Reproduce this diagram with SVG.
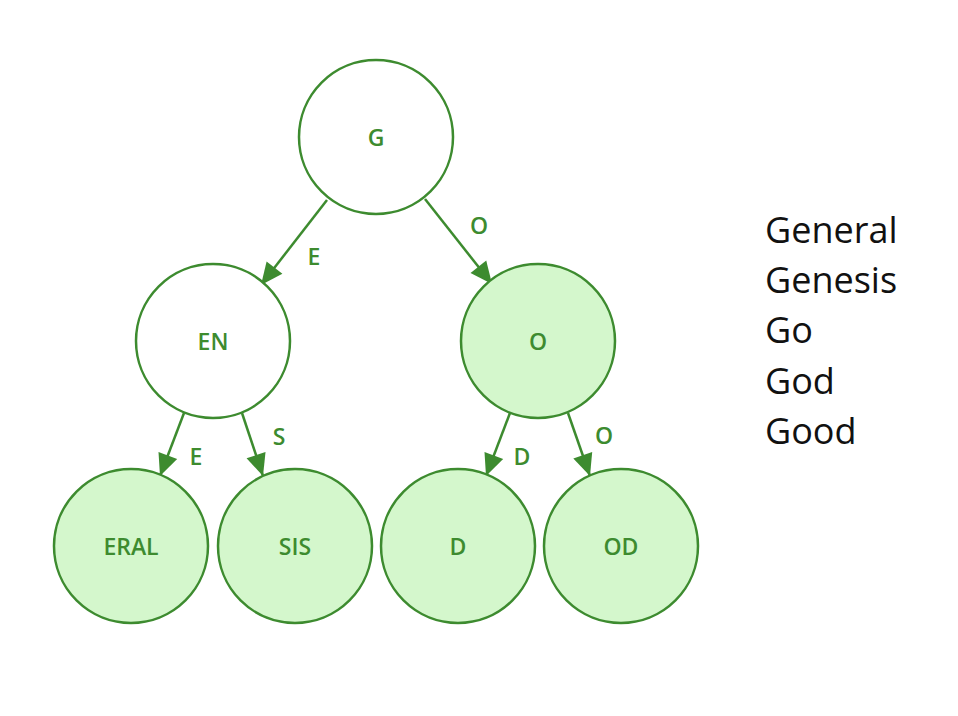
<svg xmlns="http://www.w3.org/2000/svg" width="958" height="716" viewBox="0 0 958 716">
<style>
.n{stroke:#3d8b2f;stroke-width:2.5;}
.w{fill:#ffffff;}
.g{fill:#d4f7cc;}
.t{font-family:"Open Sans","Noto Sans",sans-serif;font-size:23px;font-weight:600;fill:#3d8b2f;text-anchor:middle;}
.e{stroke:#3d8b2f;stroke-width:2.5;fill:none;}
.w2{font-family:"Open Sans","Noto Sans",sans-serif;font-size:36px;fill:#111111;}
</style>
<defs>
<marker id="a" markerUnits="userSpaceOnUse" markerWidth="26" markerHeight="26" viewBox="0 0 26 26" refX="24" refY="13" orient="auto">
<path d="M2,3 L24,13 L2,23 Z" fill="#3d8b2f"/>
</marker>
</defs>
<rect width="958" height="716" fill="#ffffff"/>
<g id="connectors">
<line class="e" x1="327" y1="200" x2="261" y2="285" marker-end="url(#a)"/>
<line class="e" x1="425" y1="199" x2="492" y2="284" marker-end="url(#a)"/>
<line class="e" x1="184" y1="413" x2="160" y2="476" marker-end="url(#a)"/>
<line class="e" x1="242" y1="413" x2="263" y2="476" marker-end="url(#a)"/>
<line class="e" x1="510" y1="413" x2="486" y2="476" marker-end="url(#a)"/>
<line class="e" x1="568" y1="413" x2="590" y2="476" marker-end="url(#a)"/>
<text class="t" x="314" y="265">E</text>
<text class="t" x="479" y="234">O</text>
<text class="t" x="196" y="465">E</text>
<text class="t" x="279" y="445">S</text>
<text class="t" x="522" y="465">D</text>
<text class="t" x="604" y="444">O</text>
</g>
<g id="node-G"><circle class="n w" cx="376" cy="137" r="77"/><text class="t" x="376" y="146">G</text></g>
<g id="node-EN"><circle class="n w" cx="213" cy="341" r="77"/><text class="t" x="213" y="350">EN</text></g>
<g id="node-O"><circle class="n g" cx="538" cy="341" r="77"/><text class="t" x="538" y="350">O</text></g>
<g id="node-ERAL"><circle class="n g" cx="131" cy="546" r="77"/><text class="t" x="131" y="555">ERAL</text></g>
<g id="node-SIS"><circle class="n g" cx="295" cy="546" r="77"/><text class="t" x="295" y="555">SIS</text></g>
<g id="node-D"><circle class="n g" cx="458" cy="546" r="77"/><text class="t" x="458" y="555">D</text></g>
<g id="node-OD"><circle class="n g" cx="621" cy="546" r="77"/><text class="t" x="621" y="555">OD</text></g>
<g id="words">
<text class="w2" x="765" y="243">General</text>
<text class="w2" x="765" y="293">Genesis</text>
<text class="w2" x="765" y="343">Go</text>
<text class="w2" x="765" y="394">God</text>
<text class="w2" x="765" y="444">Good</text>
</g>
</svg>
